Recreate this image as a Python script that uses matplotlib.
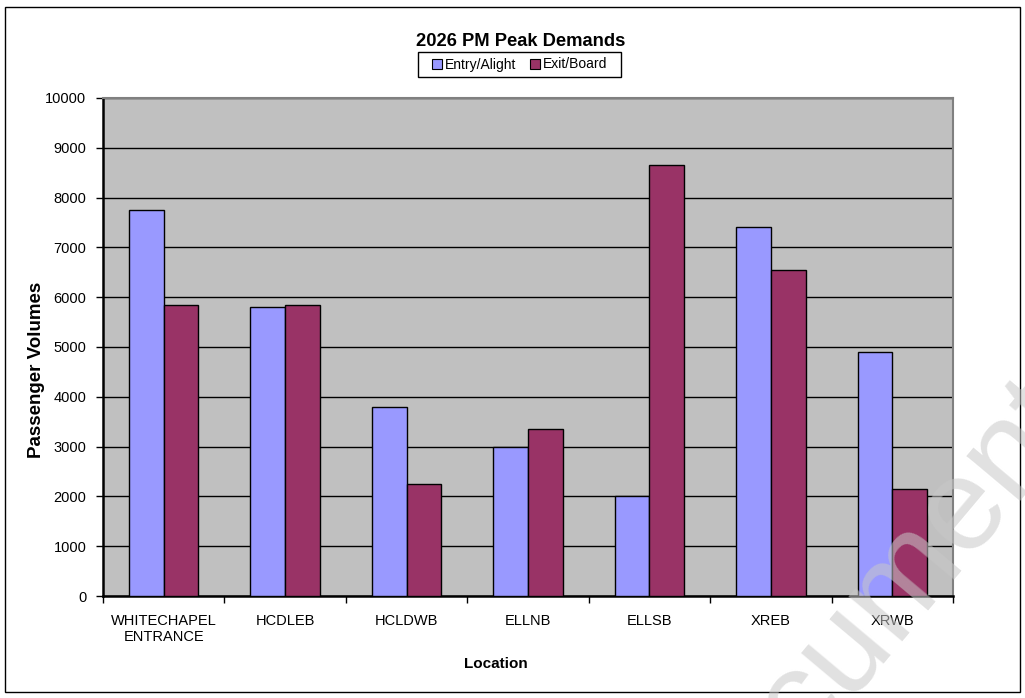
import matplotlib
matplotlib.use('Agg')
import matplotlib.pyplot as plt
import numpy as np
from matplotlib.patches import Rectangle
from matplotlib.lines import Line2D

plt.rcParams['font.family'] = ['Liberation Sans', 'DejaVu Sans']

locations = ['WHITECHAPEL\nENTRANCE', 'HCDLEB', 'HCLDWB', 'ELLNB', 'ELLSB', 'XREB', 'XRWB']
entry_alight = [7750, 5800, 3800, 3000, 2000, 7400, 4900]
exit_board = [5850, 5850, 2250, 3350, 8650, 6550, 2150]
y_ticks = [0, 1000, 2000, 3000, 4000, 5000, 6000, 7000, 8000, 9000, 10000]

entry_col = '#9999ff'
exit_col = '#993366'

W, H = 1025, 698
fig = plt.figure(figsize=(W/100, H/100), dpi=100)
ax = fig.add_axes([103/W, 1 - 596/H, 850/W, 498/H])
ax.set_facecolor('#c0c0c0')

x = np.arange(len(locations))
w = 1 / 3.5
ax.bar(x - w/2, entry_alight, w, color=entry_col, edgecolor='black', linewidth=1, zorder=3)
ax.bar(x + w/2, exit_board, w, color=exit_col, edgecolor='black', linewidth=1, zorder=3)

ax.set_xlim(-0.5, len(locations) - 0.5)
ax.set_ylim(0, 10000)
ax.set_yticks(y_ticks)
ax.yaxis.grid(True, color='black', linewidth=1, zorder=1)
ax.set_axisbelow(True)

# tick marks between categories, labels centred under each pair
ax.set_xticks(np.arange(-0.5, len(locations), 1))
ax.set_xticklabels([])
ax.set_xticks(x, minor=True)
ax.set_xticklabels(locations, minor=True, fontsize=10.5, linespacing=1.15)
ax.tick_params(axis='x', which='minor', length=0, pad=13)
ax.tick_params(axis='x', which='major', length=5, width=1, direction='out')
ax.tick_params(axis='y', length=5, width=1, direction='out', labelsize=10.5, pad=7)

for s in ['left', 'bottom']:
    ax.spines[s].set_color('black')
    ax.spines[s].set_linewidth(1.8)
for s in ['top', 'right']:
    ax.spines[s].set_color('#808080')
    ax.spines[s].set_linewidth(1.5)

fig.text(37/W, 1 - 370/H, 'Passenger Volumes', rotation=90, ha='center', va='center',
         fontsize=13.5, fontweight='bold')
fig.text(496/W, 1 - 664/H, 'Location', ha='center', va='center',
         fontsize=11, fontweight='bold')
fig.text(521/W, 1 - 41/H, '2026 PM Peak Demands', ha='center', va='center',
         fontsize=13.2, fontweight='bold')

# legend: square markers, frame drawn separately
handles = [Line2D([], [], linestyle='none', marker='s', markersize=6.5,
                  markerfacecolor=c, markeredgecolor='black', markeredgewidth=0.8)
           for c in (entry_col, exit_col)]
fig.legend(handles, ['Entry/Alight', 'Exit/Board'], loc='center',
           bbox_to_anchor=(520/W, 1 - 64.5/H), ncol=2, fontsize=10, frameon=False,
           handlelength=0.6, handletextpad=0.25, columnspacing=1.1, borderpad=0.2)
fig.patches.append(Rectangle((418/W, 1 - 77/H), 203/W, 25/H, fill=False,
                             edgecolor='black', linewidth=1, transform=fig.transFigure))

# outer chart frame
fig.patches.append(Rectangle((5/W, 6/H), 1015/W, 685/H, fill=False,
                             edgecolor='black', linewidth=1, transform=fig.transFigure))

# faint watermark across the lower right
fig.text(918/W, 1 - 562/H, 'cument', fontsize=95, color='#c8c8c8', alpha=0.55,
         rotation=50, ha='center', va='center', zorder=10)

fig.savefig('out.png', dpi=100)
